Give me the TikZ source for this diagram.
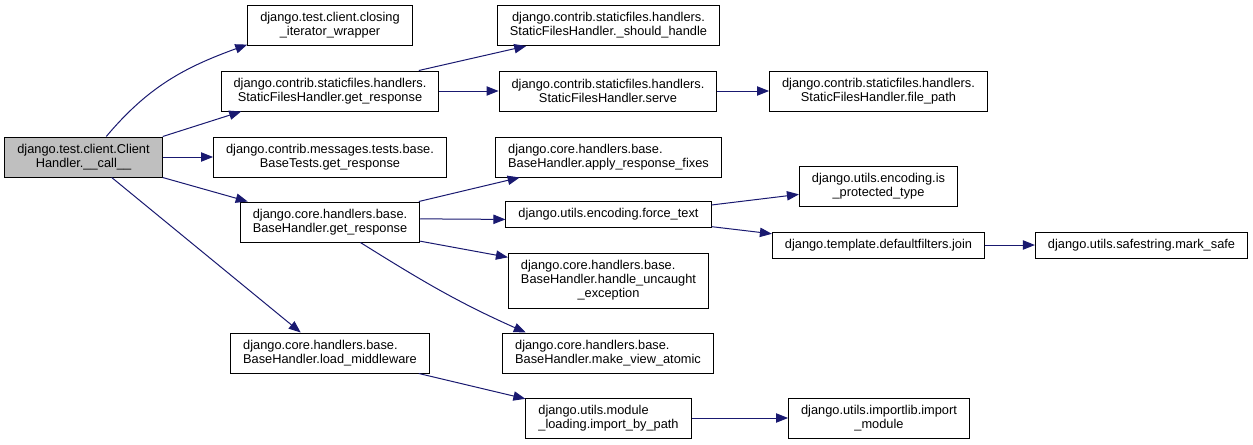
\documentclass[tikz,border=0pt]{standalone}
\usepackage{fontspec}
\setmainfont{Liberation Sans}
\usetikzlibrary{arrows.meta}
\definecolor{edgeblue}{RGB}{25,25,112}
\definecolor{rootgray}{RGB}{191,191,191}
\tikzset{
	x=0.75pt, y=0.75pt, % one unit is one pixel of the call graph
	fn/.style={draw=black, line width=0.75pt, fill=white, inner xsep=9.4pt, inner ysep=1pt, minimum height=30pt, align=center, font=\fontsize{9.6}{10.5}\selectfont}, % every function box
	oneline/.style={minimum height=19.5pt}, % box with a single line of text
	threeline/.style={minimum height=41.25pt}, % box with three lines of text
	root/.style={fill=rootgray}, % the function the graph starts from
	calls/.style={draw=edgeblue, line width=0.75pt, -{Triangle[length=9pt, width=7pt]}, edgeblue}, % the call edges
}
\begin{document}
\begin{tikzpicture}
	\useasboundingbox (0,0) rectangle (1253,-444);
			\node[fn, root] at (83.5,-157) (root) {django.test.client.Client\\Handler.\_\_call\_\_};
			\node[fn] at (330,-25.5) (closing) {django.test.client.closing\\\_iterator\_wrapper};
			\node[fn] at (330,-91) (sfget) {django.contrib.staticfiles.handlers.\\StaticFilesHandler.get\_response};
			\node[fn] at (330,-157) (msgget) {django.contrib.messages.tests.base.\\BaseTests.get\_response};
			\node[fn, align=left] at (330,-222) (bhget) {django.core.handlers.base.\\BaseHandler.get\_response};
			\node[fn, align=left] at (330,-353) (loadmw) {django.core.handlers.base.\\BaseHandler.load\_middleware};
			\node[fn] at (608.5,-25.5) (should) {django.contrib.staticfiles.handlers.\\StaticFilesHandler.\_should\_handle};
			\node[fn] at (608,-91) (serve) {django.contrib.staticfiles.handlers.\\StaticFilesHandler.serve};
			\node[fn, align=left] at (608.5,-157) (fixes) {django.core.handlers.base.\\BaseHandler.apply\_response\_fixes};
			\node[fn, oneline] at (608.5,-214) (forcetext) {django.utils.encoding.force\_text};
			\node[fn, threeline] at (608.5,-280.5) (uncaught) {\begin{tabular}{@{}l@{}}django.core.handlers.base.\\BaseHandler.handle\_uncaught\\\multicolumn{1}{@{}c@{}}{\_exception}\end{tabular}};
			\node[fn, align=left] at (608,-353) (atomic) {django.core.handlers.base.\\BaseHandler.make\_view\_atomic};
			\node[fn, align=left] at (608.5,-418) (bypath) {django.utils.module\\\_loading.import\_by\_path};
			\node[fn] at (878.5,-91) (filepath) {django.contrib.staticfiles.handlers.\\StaticFilesHandler.file\_path};
			\node[fn] at (878.5,-186) (protected) {django.utils.encoding.is\\\_protected\_type};
			\node[fn, oneline] at (878.5,-245) (join) {django.template.defaultfilters.join};
			\node[fn] at (879,-418) (impmodule) {django.utils.importlib.import\\\_module};
			\node[fn, oneline] at (1141.5,-245) (marksafe) {django.utils.safestring.mark\_safe};
	\draw[calls] (root.42) to[out=50, in=200] (closing.193);
	\draw[calls] (root.north east) -- (sfget.193);
	\draw[calls] (root.east) -- (msgget.west);
	\draw[calls] (root.south east) -- (bhget.166);
	\draw[calls] (root.324) -- (loadmw.145);
	\draw[calls] (sfget.13) -- (should.194);
	\draw[calls] (sfget.east) -- (serve.west);
	\draw[calls] (serve.east) -- (filepath.west);
	\draw[calls] (bhget.13) -- (fixes.193);
	\draw[calls] (bhget.2) -- (forcetext.183);
	\draw[calls] (bhget.-12) -- (uncaught.167);
	\draw[calls] (bhget.-34) to[out=-32, in=156] (atomic.166);
	\draw[calls] (forcetext.5) -- (protected.186);
	\draw[calls] (forcetext.-7) -- (join.174);
	\draw[calls] (join.east) -- (marksafe.west);
	\draw[calls] (loadmw.-13) -- (bypath.167);
	\draw[calls] (bypath.east) -- (impmodule.west);
\end{tikzpicture}
\end{document}
